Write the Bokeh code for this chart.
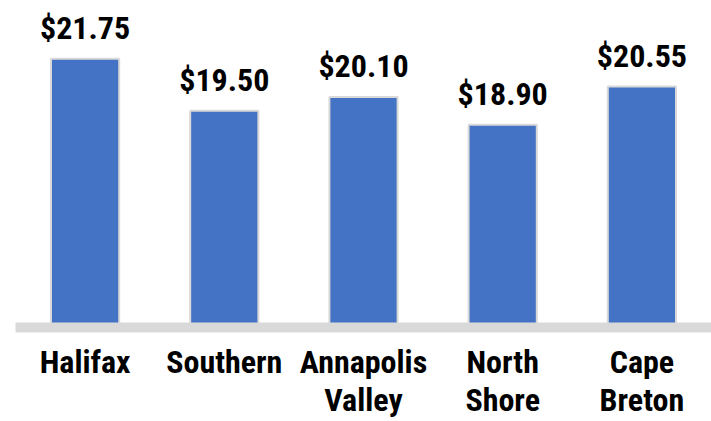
from bokeh.plotting import figure
from bokeh.models import ColumnDataSource, FactorRange, Range1d, LabelSet
from bokeh.core.properties import value
from bokeh.embed import file_html
from bokeh.resources import INLINE

regions = ["Halifax", "Southern", "Annapolis\nValley", "North\nShore", "Cape\nBreton"]
prices = [21.75, 19.50, 20.10, 18.90, 20.55]
price_labels = ["$%.2f" % v for v in prices]
axis_min = 10
y_start, y_end = 10.13, 24.27

FONT = "Roboto Condensed"

src = ColumnDataSource(dict(region=regions, price=prices, label=price_labels))

p = figure(x_range=FactorRange(*regions), y_range=Range1d(y_start, y_end),
           width=711, height=421, output_backend="svg", toolbar_location=None,
           min_border_left=15, min_border_right=0, min_border_top=0, min_border_bottom=93)

p.vbar(x="region", top="price", bottom=axis_min, width=0.49, source=src,
       fill_color="#4472C4", line_color="#d9d9d9", line_width=2)

labels = LabelSet(x="region", y="price", text="label", source=src,
                  text_align="center", text_baseline="alphabetic", y_offset=20,
                  text_font=value(FONT), text_font_style="bold", text_font_size="32px",
                  text_color="#000000")
p.add_layout(labels)

p.yaxis.visible = False
p.xgrid.grid_line_color = None
p.ygrid.grid_line_color = None
p.outline_line_color = None
p.background_fill_color = "white"
p.border_fill_color = "white"

ax = p.xaxis[0]
ax.axis_line_color = "#d9d9d9"
ax.axis_line_width = 10
ax.major_tick_line_color = None
ax.minor_tick_line_color = None
ax.major_tick_out = 0
ax.major_tick_in = 0
ax.major_label_standoff = 15
ax.major_label_text_line_height = 1.0
ax.major_label_text_font = FONT
ax.major_label_text_font_style = "bold"
ax.major_label_text_font_size = "32px"
ax.major_label_text_color = "#000000"
ax.major_label_orientation = "horizontal"

open("out.html", "w").write(file_html(p, INLINE))
